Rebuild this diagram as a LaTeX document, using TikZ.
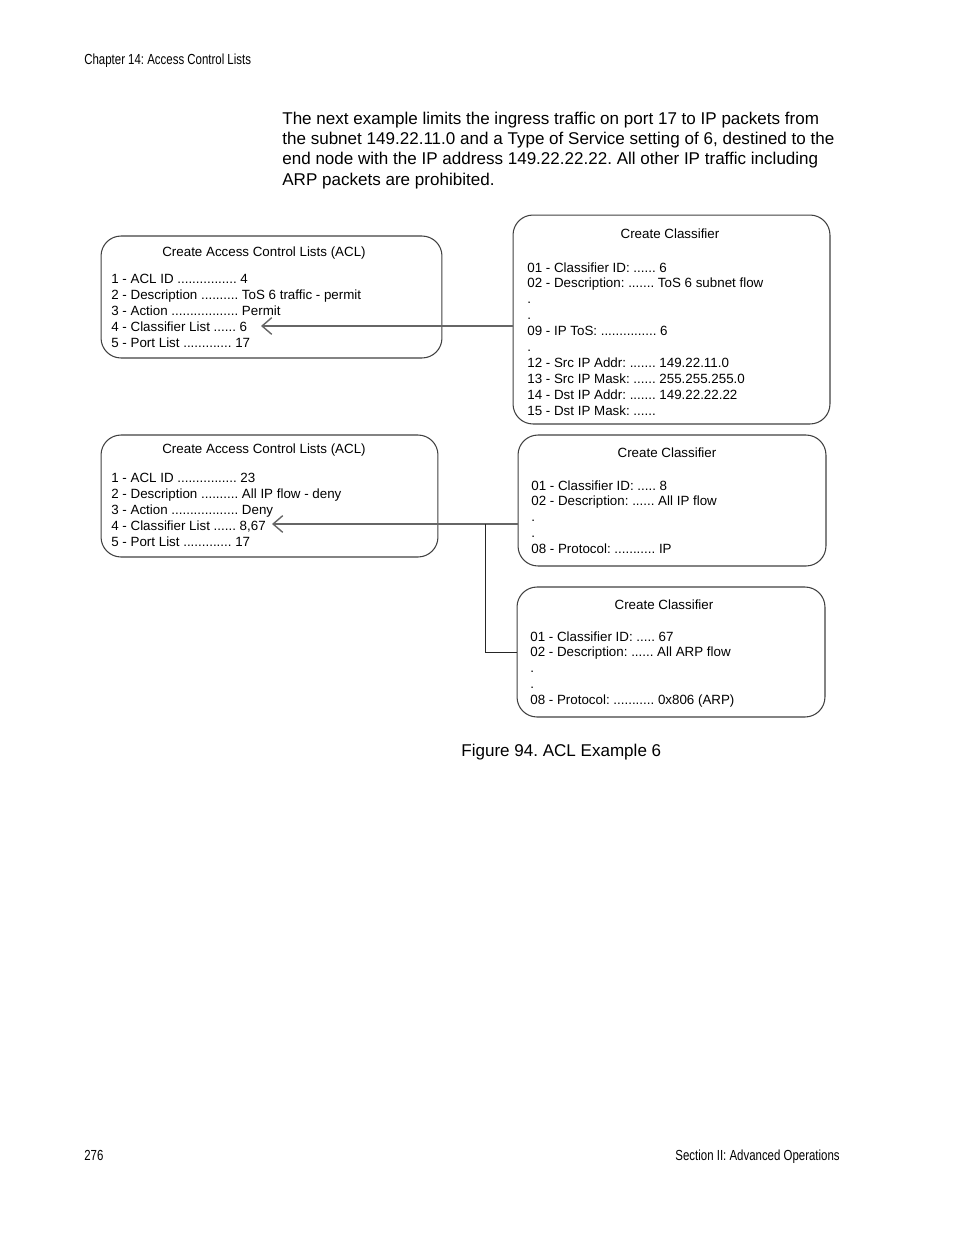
\documentclass[tikz,border=0pt]{standalone}
\usepackage{fontspec}
\setmainfont{Liberation Sans}
\newfontfamily\narrowfont[FakeStretch=0.785]{Liberation Sans}
\usetikzlibrary{arrows.meta}
\frenchspacing

\begin{document}
\begin{tikzpicture}[x=0.02cm,y=-0.02cm,>={Straight Barb[length=5.5pt,width=9.5pt]},
  box/.style={draw=black!75,line width=0.6pt,rounded corners=0.4cm,inner sep=0pt,outer sep=0pt},
  box title/.style={anchor=base,inner sep=0pt,font=\fontsize{7.6}{9.05}\selectfont},
  box text/.style={anchor=north west,inner sep=0pt,align=left,font=\fontsize{7.6}{9.05}\selectfont},
  page text/.style={inner sep=0pt,font=\narrowfont\fontsize{8.3}{10}\selectfont},
  link/.style={->,draw=black!60,line width=0.8pt}]
  \useasboundingbox (0,0) rectangle (954,1235);

  % page head, foot and caption
  \node[page text,anchor=base west] (head) at (84,64) {Chapter 14: Access Control Lists};
  \node[page text,anchor=base west] (pagenum) at (84,1160) {276};
  \node[page text,anchor=base east] (foot) at (840,1160) {Section II: Advanced Operations};
  \node[anchor=north west,inner sep=0pt,align=left,font=\fontsize{9.7}{11.6}\selectfont] (intro) at (282,111.5)
    {The next example limits the ingress traffic on port 17 to IP packets from\\
     the subnet 149.22.11.0 and a Type of Service setting of 6, destined to the\\
     end node with the IP address 149.22.22.22. All other IP traffic including\\
     ARP packets are prohibited.};
  \node[anchor=base west,inner sep=0pt,font=\fontsize{9.7}{11.6}\selectfont] (caption) at (461,756) {Figure 94. ACL Example 6};

  % boxes
  \node[box,minimum width=6.82cm,minimum height=2.44cm] (acl1) at (271.5,297) {};
  \node[box,minimum width=6.34cm,minimum height=4.18cm] (cls1) at (671.5,319.5) {};
  \node[box,minimum width=6.74cm,minimum height=2.44cm] (acl2) at (269.5,496) {};
  \node[box,minimum width=6.16cm,minimum height=2.62cm] (cls2) at (672,500.5) {};
  \node[box,minimum width=6.16cm,minimum height=2.60cm] (cls3) at (671,652) {};

  \node[box title] (acl1 title) at (264,256.5) {Create Access Control Lists (ACL)};
  \node[box text] (acl1 text) at (111,274) {1 - ACL ID ................ 4\\
    2 - Description .......... ToS 6 traffic - permit\\
    3 - Action .................. Permit\\
    4 - Classifier List ...... 6\\
    5 - Port List ............. 17};

  \node[box title] (cls1 title) at (670,238.5) {Create Classifier};
  \node[box text] (cls1 text) at (527,262) {01 - Classifier ID: ...... 6\\
    02 - Description: ....... ToS 6 subnet flow\\
    .\\
    .\\
    09 - IP ToS: ............... 6\\
    .\\
    12 - Src IP Addr: ....... 149.22.11.0\\
    13 - Src IP Mask: ...... 255.255.255.0\\
    14 - Dst IP Addr: ....... 149.22.22.22\\
    15 - Dst IP Mask: ......};

  \node[box title] (acl2 title) at (264,453.5) {Create Access Control Lists (ACL)};
  \node[box text] (acl2 text) at (111,473) {1 - ACL ID ................ 23\\
    2 - Description .......... All IP flow - deny\\
    3 - Action .................. Deny\\
    4 - Classifier List ...... 8,67\\
    5 - Port List ............. 17};

  \node[box title] (cls2 title) at (667,457.5) {Create Classifier};
  \node[box text] (cls2 text) at (531,480) {01 - Classifier ID: ..... 8\\
    02 - Description: ...... All IP flow\\
    .\\
    .\\
    08 - Protocol: ........... IP};

  \node[box title] (cls3 title) at (664,609.5) {Create Classifier};
  \node[box text] (cls3 text) at (530,631) {01 - Classifier ID: ..... 67\\
    02 - Description: ...... All ARP flow\\
    .\\
    .\\
    08 - Protocol: ........... 0x806 (ARP)};

  % connectors
  \coordinate (tip1) at (261,326);
  \coordinate (tip2) at (272,524);
  \coordinate (join) at (485,524);
  \draw[link] (tip1 -| cls1.west) -- (tip1);
  \draw[link] (tip2 -| cls2.west) -- (tip2);
  \draw[black!85,line width=0.5pt] (cls3.west) -| (join);
\end{tikzpicture}
\end{document}
